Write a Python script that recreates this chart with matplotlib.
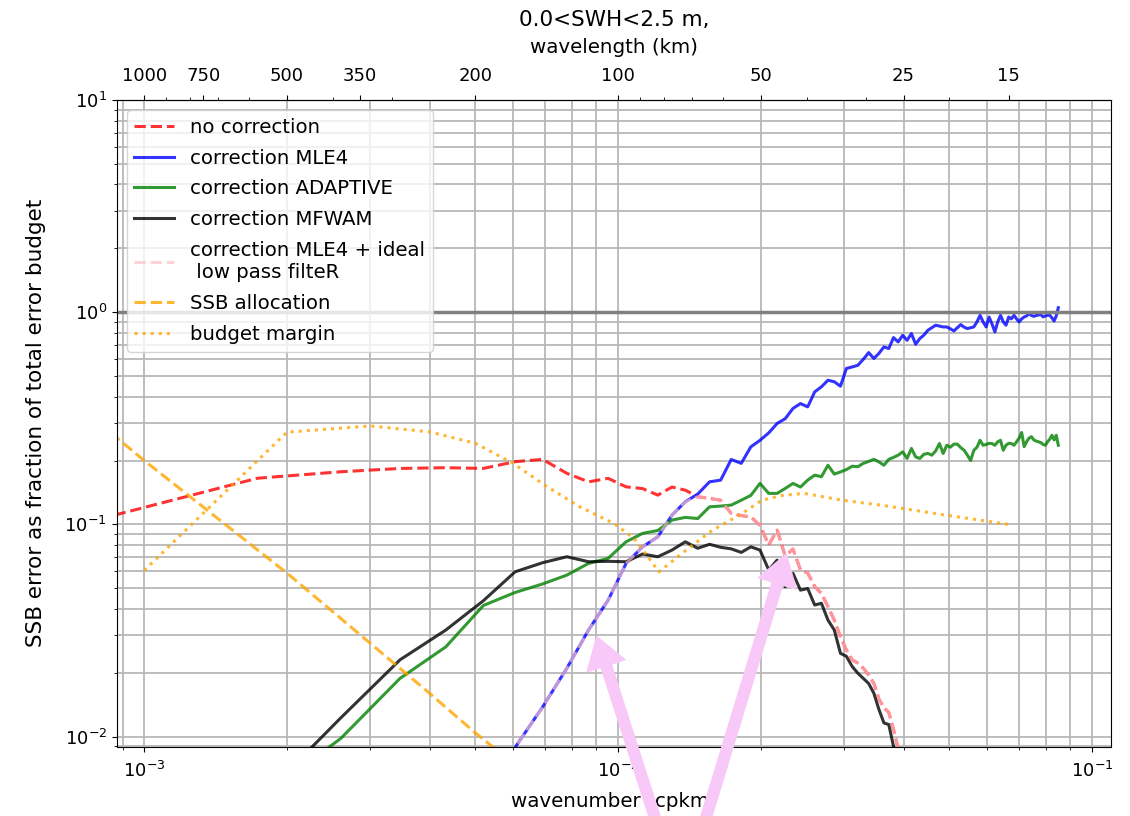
import matplotlib
matplotlib.use('Agg')
import matplotlib.pyplot as plt
import numpy as np
from matplotlib.patches import FancyArrowPatch
from matplotlib.ticker import NullFormatter

plt.rcParams['font.size'] = 13

# wavenumber grid of the spectra (cpkm)
dk = 0.000866

no_corr = [0.1106, 0.165, 0.177, 0.1835, 0.185, 0.1836, 0.1975, 0.2025, 0.174, 0.1587,
           0.1648, 0.1503, 0.1475, 0.1374, 0.150, 0.145, 0.135, 0.1326, 0.130, 0.1127,
           0.110, 0.1085, 0.099, 0.080, 0.094, 0.071, 0.0765, 0.061, 0.059, 0.051,
           0.0473, 0.041, 0.0354, 0.0296, 0.0256, 0.0230, 0.0222, 0.0210, 0.0195, 0.0178,
           0.0150, 0.0137, 0.0130, 0.0108, 0.0088, 0.0075]

mle4 = [0.0006, 0.0010, 0.0016, 0.0025, 0.0038, 0.0058, 0.0089, 0.0138, 0.021, 0.0318,
        0.044, 0.0655, 0.0784, 0.0874, 0.1106, 0.1278, 0.139, 0.1587, 0.1617, 0.2023,
        0.194, 0.232, 0.249, 0.270, 0.299, 0.315, 0.352, 0.371, 0.358, 0.421,
        0.445, 0.478, 0.470, 0.448, 0.543, 0.552, 0.562, 0.600, 0.645, 0.605,
        0.640, 0.686, 0.674, 0.759, 0.724, 0.778, 0.737, 0.793, 0.706, 0.751,
        0.780, 0.822, 0.845, 0.868, 0.860, 0.852, 0.852, 0.835, 0.816, 0.845,
        0.874, 0.850, 0.837, 0.845, 0.852, 0.900, 0.967, 0.900, 0.852, 0.949,
        0.880, 0.807, 0.900, 0.967, 0.900, 0.868, 0.949, 0.930, 0.967, 0.930,
        0.899, 0.930, 0.949, 0.960, 0.985, 0.965, 0.956, 0.965, 0.970, 0.974,
        0.950, 0.960, 0.967, 0.967, 0.940, 0.909, 0.960, 1.05]

adaptive = [0.0025, 0.0050, 0.0098, 0.0188, 0.0265, 0.0415, 0.0478, 0.0524, 0.0577, 0.0655,
            0.0692, 0.0828, 0.0907, 0.0936, 0.1048, 0.1079, 0.1066, 0.121, 0.122, 0.1233,
            0.130, 0.137, 0.156, 0.140, 0.140, 0.1477, 0.156, 0.150, 0.1617, 0.1706,
            0.1678, 0.190, 0.1726, 0.1767, 0.1813, 0.188, 0.187, 0.194, 0.198, 0.2026,
            0.197, 0.190, 0.2025, 0.207, 0.212, 0.2196, 0.2046, 0.228, 0.208, 0.2046,
            0.214, 0.216, 0.212, 0.222, 0.2405, 0.216, 0.236, 0.231, 0.239, 0.2389,
            0.230, 0.2235, 0.212, 0.200, 0.2235, 0.231, 0.249, 0.236, 0.238, 0.241,
            0.2405, 0.236, 0.245, 0.249, 0.2235, 0.236, 0.241, 0.2405, 0.236, 0.245,
            0.255, 0.271, 0.2325, 0.245, 0.255, 0.259, 0.250, 0.247, 0.245, 0.243,
            0.238, 0.236, 0.245, 0.252, 0.263, 0.250, 0.263, 0.236]

mfwam = [0.0020, 0.0049, 0.01225, 0.0230, 0.0318, 0.0437, 0.0598, 0.066, 0.0704, 0.0667,
         0.0670, 0.0667, 0.0725, 0.0704, 0.0757, 0.0828, 0.0772, 0.0806, 0.078, 0.0767,
         0.0738, 0.0784, 0.0757, 0.061, 0.0679, 0.0508, 0.0588, 0.049, 0.0499, 0.0417,
         0.0425, 0.0354, 0.0318, 0.0247, 0.0239, 0.0214, 0.0199, 0.0188, 0.0178, 0.016,
         0.0134, 0.0116, 0.0114, 0.0090, 0.0075]

# SSB allocation and budget margin curves
alloc_k = [0.0008, 0.001, 0.002, 0.003, 0.004, 0.005, 0.006]
alloc_v = [0.302, 0.20, 0.059, 0.0275, 0.016, 0.0104, 0.0075]

margin_k = [0.001, 0.002, 0.003, 0.004, 0.005, 0.006, 0.007, 0.0083, 0.0098, 0.0108, 0.0122,
            0.0139, 0.0158, 0.0182, 0.0201, 0.0222, 0.0247, 0.0297, 0.0361, 0.0486, 0.0667]
margin_v = [0.0607, 0.272, 0.291, 0.273, 0.241, 0.194, 0.153, 0.121, 0.101, 0.086, 0.0598,
            0.0756, 0.0938, 0.112, 0.130, 0.137, 0.140, 0.130, 0.123, 0.111, 0.100]

wl_ticks = [1000, 750, 500, 350, 200, 100, 50, 25, 15]

k_red = dk * np.arange(1, len(no_corr) + 1)
k_blue = dk * np.arange(1, len(mle4) + 1)
k_green = dk * np.arange(1, len(adaptive) + 1)
k_black = dk * np.arange(1, len(mfwam) + 1)
# ideal low pass filter: keep the MLE4 correction only where it helps
ideal = np.minimum(np.array(mle4[:len(no_corr)]), np.array(no_corr))

fig = plt.figure(figsize=(11.3, 8.16), dpi=100)
ax = fig.add_axes([0.1033, 0.085, 0.8797, 0.7925])

lw = 2.2
ax.plot(k_red, no_corr, '--', color='red', lw=lw, alpha=0.8, label='no correction')
ax.plot(k_blue, mle4, '-', color='blue', lw=lw, alpha=0.8, label='correction MLE4')
ax.plot(k_green, adaptive, '-', color='green', lw=lw, alpha=0.8, label='correction ADAPTIVE')
ax.plot(k_black, mfwam, '-', color='black', lw=lw, alpha=0.8, label='correction MFWAM')
ax.plot(k_red, ideal, '--', color='pink', lw=lw, alpha=0.7,
        label='correction MLE4 + ideal\n low pass filteR')
ax.plot(alloc_k, alloc_v, '--', color='orange', lw=lw, alpha=0.8, label='SSB allocation')
ax.plot(margin_k, margin_v, ':', color='orange', lw=lw, alpha=0.8, label='budget margin')
ax.axhline(1, color='gray', lw=2.5)

ax.set_xscale('log')
ax.set_yscale('log')
ax.set_xlim(8.75e-4, 0.1095)
ax.set_ylim(0.00897, 10)
ax.grid(which='both', color='#b8b8b8', lw=1.3)
ax.tick_params(axis='x', which='major', pad=6.5)
ax.set_xlabel('wavenumber (cpkm)', fontsize=14.3, labelpad=8)
ax.set_ylabel('SSB error as fraction of total error budget', fontsize=15.5, labelpad=13)
ax.legend(loc='upper left', fontsize=14.2, labelspacing=0.6)


def inv(x):
    with np.errstate(divide='ignore'):
        return 1.0 / np.asarray(x, dtype=float)


secax = ax.secondary_xaxis('top', functions=(inv, inv))
secax.set_xticks(wl_ticks, labels=[str(w) for w in wl_ticks])
secax.xaxis.set_minor_formatter(NullFormatter())
secax.tick_params(axis='x', which='major', pad=7)
secax.set_xlabel('wavelength (km)', fontsize=14.3, labelpad=10)
ax.set_title('0.0<SWH<2.5 m,', fontsize=15.5, pad=9)

# pink arrows drawn over the figure
for tail, tip in [((0.5814, -0.01), (0.5274, 0.2230)), ((0.6230, -0.01), (0.6965, 0.3240))]:
    arr = FancyArrowPatch(tail, tip, transform=fig.transFigure,
                          arrowstyle='simple,head_length=1.0,head_width=1.3,tail_width=0.35',
                          mutation_scale=22, color='#f8c8f8', clip_on=False, zorder=10)
    fig.add_artist(arr)

fig.savefig('out.png', dpi=100)
